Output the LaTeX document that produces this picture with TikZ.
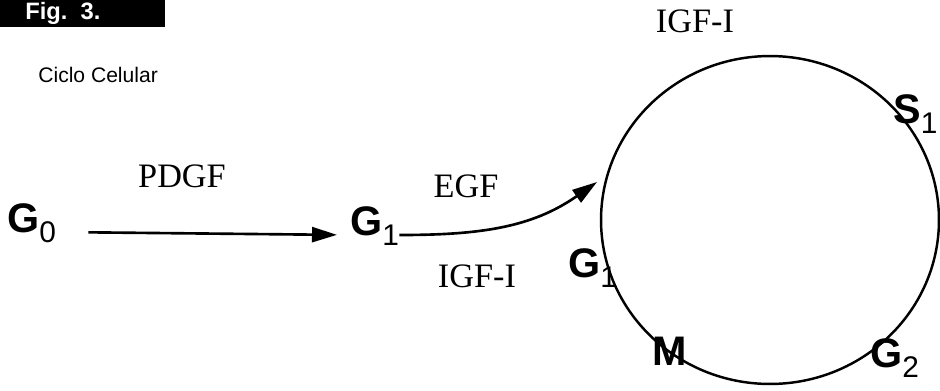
\documentclass[tikz,border=0pt]{standalone}
\usepackage{fontspec}
\setmainfont{Liberation Serif}
\setsansfont{Liberation Sans}
\usetikzlibrary{arrows.meta,shapes.geometric}
\newcommand{\phsub}[1]{\raisebox{-0.21cm}{\mdseries\fontsize{17}{17}\selectfont #1}}
\begin{document}
\begin{tikzpicture}[x=0.02cm,y=-0.02cm,every node/.style={inner sep=0pt},
  phase/.style={anchor=base west,font=\sffamily\bfseries\fontsize{23.5}{23.5}\selectfont},
  factor/.style={anchor=base,font=\fontsize{19.5}{19.5}\selectfont},
  arr/.style={-{Triangle[length=0.5cm,width=0.3cm]},line width=1.5pt}]
\useasboundingbox (0,0) rectangle (940,390);
\node[fill=black,anchor=north west,minimum width=3.3cm,minimum height=0.54cm] (figbox) at (0,0) {};
\node[anchor=base west,text=white,font=\sffamily\bfseries\fontsize{13.5}{13.5}\selectfont] (figtxt) at (25,19) {Fig.\ \ 3.};
\node[anchor=base west,font=\sffamily\fontsize{12}{12}\selectfont] (title) at (38,82) {Ciclo Celular};
\node[phase] (g0) at (7,232) {G\phsub{0}};
\node[phase] (g1) at (350,235) {G\phsub{1}};
\node[draw,ellipse,line width=1.4pt,minimum width=6.76cm,minimum height=6.56cm] (cyc) at (770,220) {};
\node[phase] (cs1) at (893,123) {S\phsub{1}};
\node[phase] (cg2) at (870,367) {G\phsub{2}};
\node[phase] (cm) at (652,365) {M};
\node[phase] (cg1) at (568,277) {G\phsub{1}};
\node[factor] (pdgf) at (182,187) {PDGF};
\node[factor] (egf) at (466,197) {EGF};
\node[factor] (igfa) at (477,287) {IGF-I};
\node[factor] (igfb) at (695,32) {IGF-I};
\coordinate (egfend) at (597,182);
\draw[arr,shorten <=0.64cm,shorten >=0.26cm] (g0.base east) -- (g1.base west);
\draw[arr] (g1.base east) to[out=0,in=215] (egfend);
\end{tikzpicture}
\end{document}
